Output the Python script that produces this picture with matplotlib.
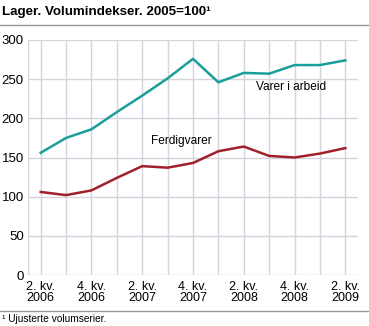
import matplotlib
matplotlib.use("Agg")
import matplotlib.pyplot as plt

plt.rcParams['font.family'] = ['Liberation Sans', 'DejaVu Sans']

quarters = ['2. kv.\n2006', '', '4. kv.\n2006', '', '2. kv.\n2007', '', '4. kv.\n2007', '',
            '2. kv.\n2008', '', '4. kv.\n2008', '', '2. kv.\n2009']
varer_i_arbeid = [156, 175, 186, 208, 229, 251, 276, 246, 258, 257, 268, 268, 274]
ferdigvarer = [106, 102, 108, 124, 139, 137, 143, 158, 164, 152, 150, 155, 162]

fig = plt.figure(figsize=(3.69, 3.26), dpi=100)
ax = fig.add_axes([28/369, 51/326, 330/369, 235/326])

x = range(len(quarters))
ax.plot(x, varer_i_arbeid, color='#1a9e9a', lw=1.8)
ax.plot(x, ferdigvarer, color='#a11f2b', lw=1.8)

ax.text(4.35, 164, 'Ferdigvarer', fontsize=8.6, va='bottom', ha='left')
ax.text(8.5, 240, 'Varer i arbeid', fontsize=8.6, va='center', ha='left')

ax.set_xlim(-0.5, 12.5)
ax.set_ylim(0, 300)
ax.set_yticks([0, 50, 100, 150, 200, 250, 300])
ax.set_xticks(list(x))
ax.set_xticklabels(quarters, fontsize=9, linespacing=0.95)
ax.tick_params(axis='y', labelsize=9.5, length=0, pad=3)
ax.tick_params(axis='x', length=0, pad=4)
ax.grid(True, color='#d4d4dc', lw=1)
ax.set_axisbelow(True)
for s in ax.spines.values():
    s.set_visible(False)
ax.axvline(-0.5, color='#d4d4dc', lw=1, zorder=0)

fig.text(0.005, 0.963, 'Lager. Volumindekser. 2005=100\u00b9', fontsize=9.6, fontweight='bold', va='center')
fig.add_artist(plt.Line2D([0, 1], [1 - 25/326, 1 - 25/326], color='#999999', lw=1))
fig.add_artist(plt.Line2D([0, 1], [1 - 311/326, 1 - 311/326], color='#999999', lw=1))
fig.text(0.005, 1 - 319/326, '\u00b9 Ujusterte volumserier.', fontsize=7.3, va='center')

fig.savefig('out.png', dpi=100)
